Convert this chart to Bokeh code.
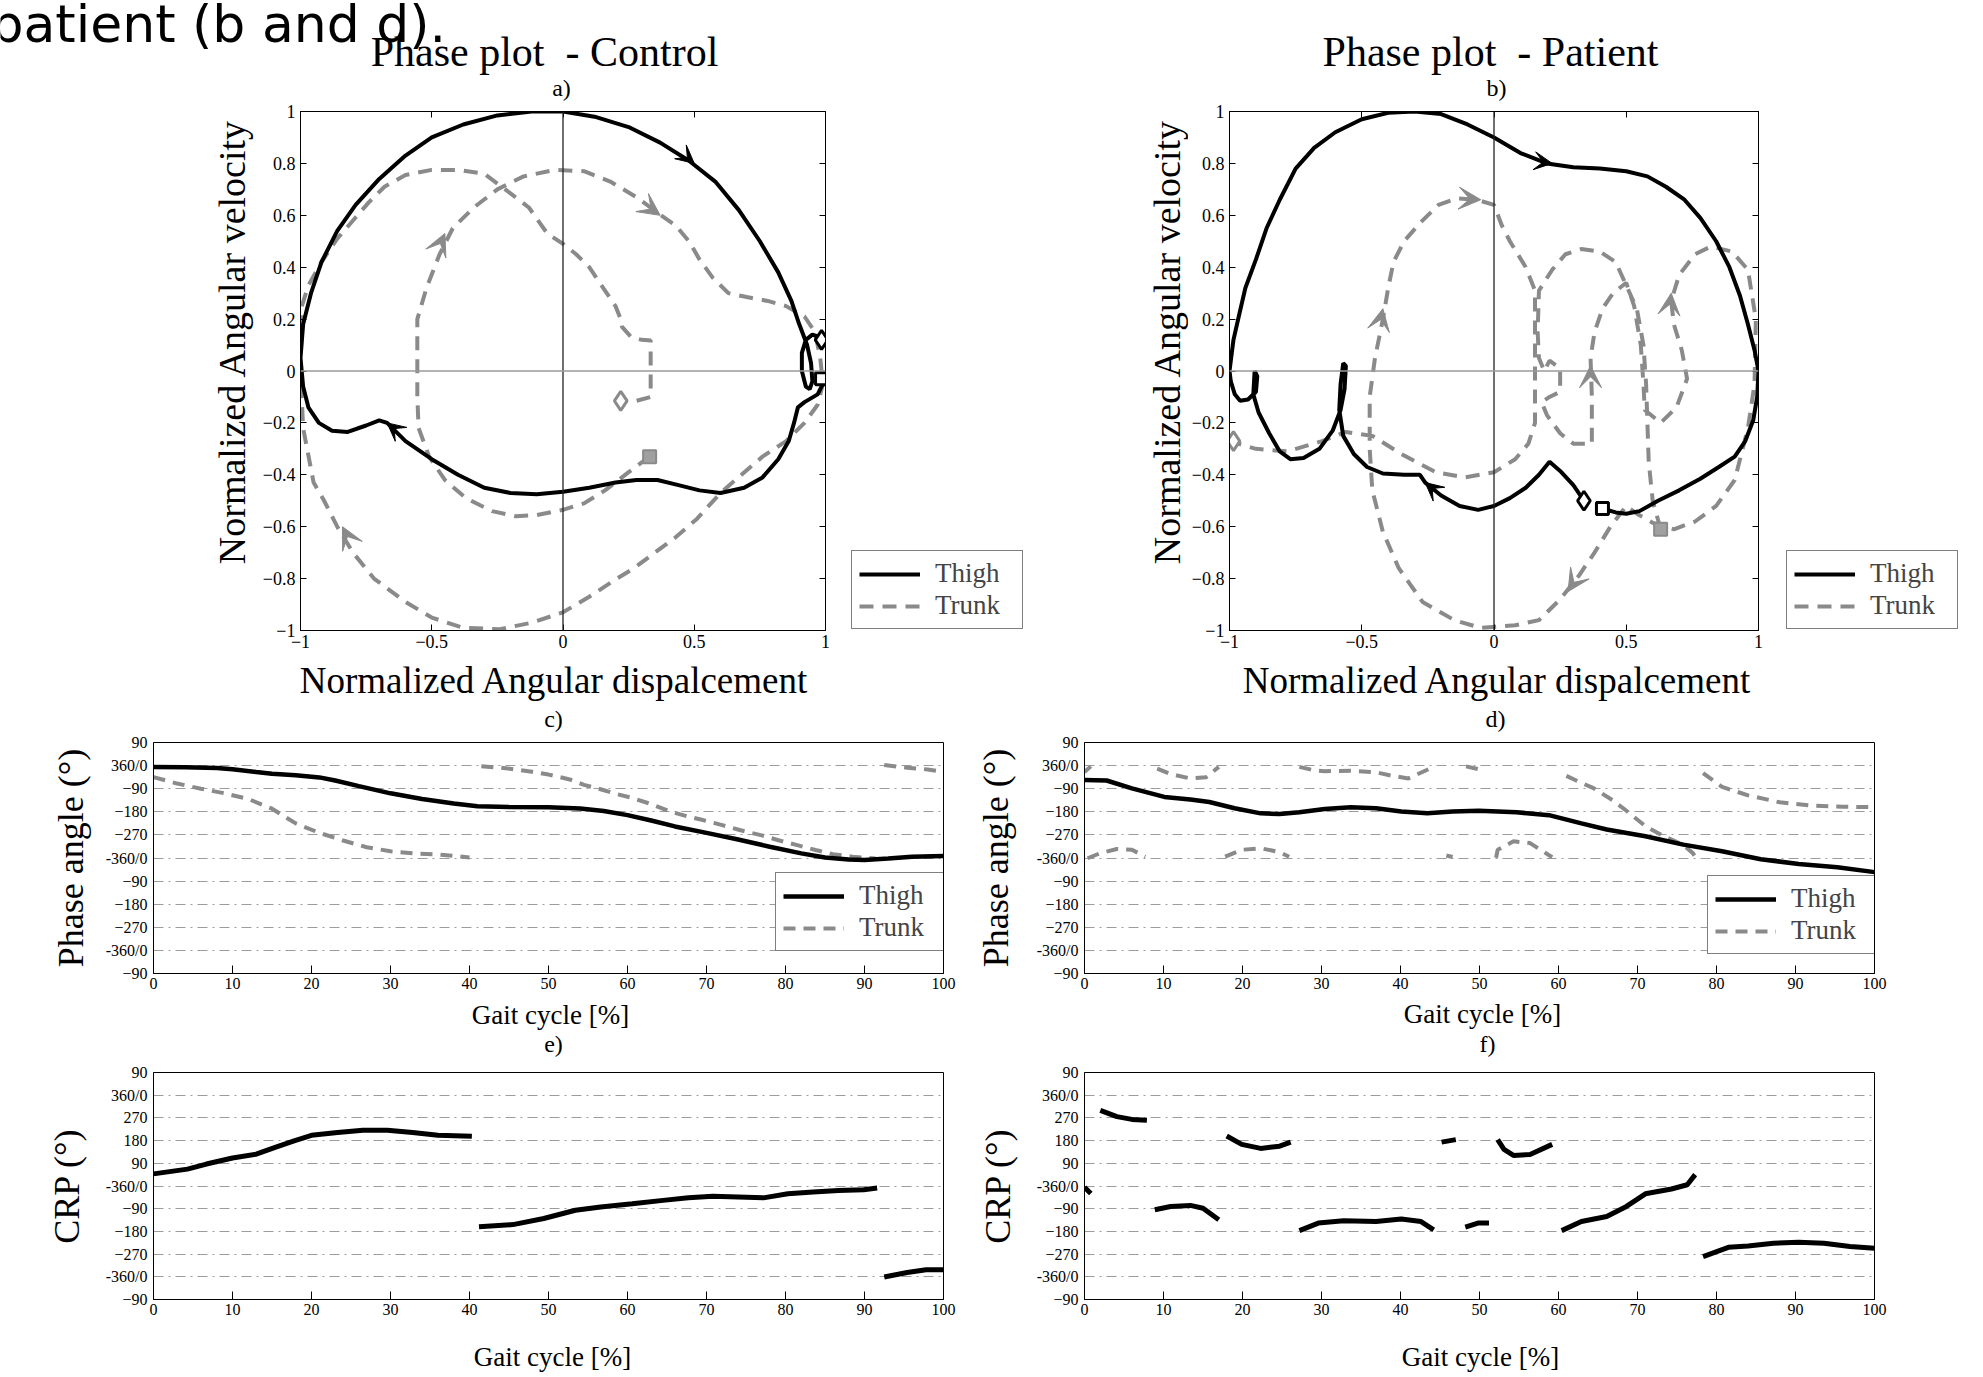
import math
from bokeh.plotting import figure
from bokeh.layouts import column, row
from bokeh.models import (Label, Legend, LegendItem, Span, FixedTicker, LinearAxis,
                          Arrow, VeeHead, ColumnDataSource)
from bokeh.embed import file_html
from bokeh.resources import INLINE

SERIF = "Liberation Serif"
BLACK = "black"
GRAY = "#8a8a8a"
GRID = "#9c9c9c"
NAN = float("nan")

# ------------------------------------------------------------------ data
# a) Control phase plot: (normalized displacement, normalized velocity)
thigh_a = [(1.0, -0.03), (0.97, -0.09), (0.92, -0.12), (0.895, -0.14), (0.88, -0.2), (0.86, -0.27),
           (0.82, -0.34), (0.76, -0.41), (0.69, -0.45), (0.6, -0.47), (0.52, -0.46), (0.44, -0.44),
           (0.36, -0.42), (0.28, -0.42), (0.2, -0.43), (0.1, -0.45), (0.0, -0.465), (-0.1, -0.475),
           (-0.2, -0.47), (-0.3, -0.45), (-0.4, -0.4), (-0.5, -0.34), (-0.6, -0.27), (-0.67, -0.2),
           (-0.7, -0.19), (-0.75, -0.21), (-0.82, -0.235), (-0.88, -0.23), (-0.93, -0.2), (-0.97, -0.14),
           (-0.99, -0.06), (-1.0, 0.05), (-0.99, 0.18), (-0.96, 0.3), (-0.92, 0.42), (-0.86, 0.54),
           (-0.79, 0.64), (-0.7, 0.74), (-0.6, 0.83), (-0.5, 0.9), (-0.38, 0.95), (-0.25, 0.985),
           (-0.12, 1.0), (0.0, 1.0), (0.12, 0.98), (0.25, 0.94), (0.37, 0.88), (0.48, 0.81), (0.58, 0.73),
           (0.67, 0.62), (0.75, 0.5), (0.82, 0.38), (0.87, 0.27), (0.9, 0.18), (0.93, 0.1), (0.945, 0.03),
           (0.95, -0.04), (0.94, -0.07), (0.925, -0.06), (0.91, 0.0), (0.91, 0.07), (0.925, 0.12),
           (0.95, 0.14), (0.98, 0.13), (1.0, 0.12)]
trunk_a = [(0.33, -0.33), (0.25, -0.39), (0.16, -0.46), (0.08, -0.51), (0.0, -0.535), (-0.1, -0.555),
           (-0.18, -0.56), (-0.27, -0.54), (-0.37, -0.49), (-0.45, -0.42), (-0.51, -0.33), (-0.55, -0.22),
           (-0.555, -0.1), (-0.555, 0.05), (-0.555, 0.2), (-0.52, 0.32), (-0.47, 0.45), (-0.42, 0.55),
           (-0.34, 0.63), (-0.25, 0.7), (-0.15, 0.75), (-0.03, 0.775), (0.08, 0.77), (0.18, 0.73),
           (0.28, 0.67), (0.36, 0.61), (0.43, 0.56), (0.48, 0.5), (0.52, 0.43), (0.57, 0.36), (0.63, 0.3),
           (0.7, 0.285), (0.78, 0.27), (0.85, 0.25), (0.92, 0.21), (0.96, 0.15), (0.98, 0.05), (0.99, -0.05),
           (0.97, -0.13), (0.92, -0.2), (0.85, -0.27), (0.76, -0.33), (0.68, -0.4), (0.6, -0.47),
           (0.51, -0.57), (0.43, -0.64), (0.35, -0.7), (0.27, -0.76), (0.19, -0.81), (0.1, -0.87),
           (0.0, -0.93), (-0.12, -0.97), (-0.24, -0.995), (-0.38, -0.99), (-0.5, -0.95), (-0.6, -0.89),
           (-0.72, -0.8), (-0.8, -0.7), (-0.86, -0.6), (-0.91, -0.5), (-0.95, -0.43), (-0.99, -0.22),
           (-1.0, 0.0), (-0.995, 0.25), (-0.97, 0.33), (-0.92, 0.42), (-0.86, 0.51), (-0.8, 0.58),
           (-0.74, 0.65), (-0.68, 0.71), (-0.6, 0.755), (-0.5, 0.775), (-0.4, 0.775), (-0.3, 0.76),
           (-0.22, 0.7), (-0.13, 0.63), (-0.06, 0.53), (0.0, 0.49), (0.05, 0.45), (0.1, 0.4), (0.16, 0.31),
           (0.2, 0.25), (0.22, 0.2), (0.225, 0.17), (0.26, 0.13), (0.3, 0.12), (0.334, 0.118),
           (0.334, 0.0), (0.334, -0.1), (0.28, -0.115), (0.22, -0.115)]
start_end_a = {"thigh_diamond": (0.985, 0.12), "thigh_square": (0.985, -0.03),
               "trunk_diamond": (0.22, -0.115), "trunk_square": (0.33, -0.33)}
# arrow tips (x, y) with direction (dx, dy)
arrows_a_thigh = [(0.5, 0.8, 0.1, -0.085), (-0.67, -0.2, -0.06, 0.05)]
arrows_a_trunk = [(0.37, 0.6, 0.07, -0.05), (-0.45, 0.53, 0.04, 0.09), (-0.84, -0.6, -0.04, 0.08)]

# b) Patient phase plot
thigh_b = [(0.34, -0.5), (0.3, -0.44), (0.25, -0.385), (0.21, -0.35), (0.17, -0.4), (0.12, -0.45),
           (0.06, -0.49), (0.0, -0.52), (-0.06, -0.535), (-0.13, -0.52), (-0.2, -0.48), (-0.26, -0.43),
           (-0.28, -0.4), (-0.34, -0.4), (-0.42, -0.395), (-0.48, -0.37), (-0.53, -0.32), (-0.57, -0.25),
           (-0.585, -0.15), (-0.58, -0.05), (-0.57, 0.03), (-0.56, 0.02), (-0.565, -0.07), (-0.58, -0.15),
           (-0.61, -0.23), (-0.66, -0.3), (-0.72, -0.335), (-0.77, -0.34), (-0.81, -0.31), (-0.85, -0.24),
           (-0.89, -0.16), (-0.91, -0.09), (-0.905, 0.0), (-0.895, -0.02), (-0.9, -0.08), (-0.93, -0.11),
           (-0.96, -0.115), (-0.98, -0.09), (-0.995, -0.04), (-1.0, 0.0), (-0.985, 0.12), (-0.965, 0.21),
           (-0.94, 0.32), (-0.9, 0.43), (-0.86, 0.55), (-0.81, 0.66), (-0.75, 0.78), (-0.68, 0.86),
           (-0.6, 0.92), (-0.5, 0.97), (-0.4, 0.995), (-0.3, 1.0), (-0.2, 0.99), (-0.1, 0.95), (0.0, 0.9),
           (0.1, 0.84), (0.2, 0.8), (0.3, 0.785), (0.4, 0.78), (0.5, 0.77), (0.58, 0.75), (0.65, 0.71),
           (0.72, 0.66), (0.78, 0.59), (0.84, 0.5), (0.89, 0.4), (0.93, 0.29), (0.96, 0.18), (0.985, 0.08),
           (1.0, 0.0), (0.995, -0.1), (0.98, -0.19), (0.95, -0.27), (0.91, -0.33), (0.85, -0.37),
           (0.78, -0.415), (0.7, -0.46), (0.62, -0.5), (0.55, -0.54), (0.5, -0.55), (0.46, -0.545),
           (0.41, -0.53)]
trunk_b = [(0.63, -0.61), (0.6, -0.5), (0.585, -0.35), (0.58, -0.2), (0.575, -0.05), (0.565, 0.1),
           (0.54, 0.24), (0.5, 0.33), (0.46, 0.42), (0.4, 0.46), (0.33, 0.47), (0.27, 0.45), (0.22, 0.39),
           (0.17, 0.31), (0.165, 0.15), (0.17, 0.05), (0.19, 0.0), (0.21, 0.04), (0.25, 0.01), (0.25, -0.08),
           (0.21, -0.1), (0.18, -0.12), (0.2, -0.17), (0.25, -0.24), (0.3, -0.28), (0.37, -0.28),
           (0.37, -0.1), (0.365, 0.05), (0.38, 0.15), (0.41, 0.24), (0.45, 0.3), (0.5, 0.34), (0.53, 0.25),
           (0.555, 0.1), (0.565, -0.05), (0.57, -0.15), (0.63, -0.2), (0.69, -0.14), (0.73, -0.03),
           (0.71, 0.08), (0.68, 0.18), (0.67, 0.27), (0.7, 0.37), (0.76, 0.45), (0.82, 0.48), (0.9, 0.46),
           (0.96, 0.39), (0.99, 0.2), (0.985, -0.05), (0.96, -0.22), (0.91, -0.42), (0.84, -0.52),
           (0.76, -0.58), (0.68, -0.61), (0.6, -0.585), (0.54, -0.55), (0.5, -0.52), (0.44, -0.6),
           (0.38, -0.7), (0.32, -0.79), (0.25, -0.88), (0.17, -0.96), (0.08, -0.98), (-0.05, -0.99),
           (-0.15, -0.96), (-0.27, -0.89), (-0.36, -0.76), (-0.42, -0.62), (-0.46, -0.46), (-0.47, -0.3),
           (-0.47, -0.1), (-0.45, 0.05), (-0.42, 0.2), (-0.4, 0.32), (-0.38, 0.42), (-0.34, 0.5),
           (-0.28, 0.57), (-0.21, 0.64), (-0.14, 0.665), (-0.065, 0.66), (0.0, 0.64), (0.03, 0.56),
           (0.06, 0.5), (0.12, 0.4), (0.155, 0.31), (0.155, 0.15), (0.155, 0.0), (0.155, -0.2),
           (0.13, -0.28), (0.08, -0.34), (0.0, -0.39), (-0.11, -0.41), (-0.22, -0.39), (-0.35, -0.32),
           (-0.46, -0.25), (-0.56, -0.235), (-0.65, -0.27), (-0.78, -0.31), (-0.9, -0.3), (-1.0, -0.27)]
start_end_b = {"thigh_diamond": (0.34, -0.5), "thigh_square": (0.41, -0.53),
               "trunk_diamond": (-0.985, -0.27), "trunk_square": (0.63, -0.61)}
arrows_b_thigh = [(0.22, 0.8, 0.1, -0.015), (-0.26, -0.43, -0.07, 0.06)]
arrows_b_trunk = [(-0.05, 0.66, 0.07, -0.005), (-0.42, 0.24, 0.02, 0.1), (0.365, 0.02, 0.0, 0.1),
                  (0.67, 0.3, 0.01, 0.1), (0.28, -0.85, -0.05, -0.08)]

# c) / d) phase angle vs gait cycle
phase_ticks = [90, 0, -90, -180, -270, -360, -450, -540, -630, -720, -810]
phase_tick_labels = ["90", "360/0", "\u221290", "\u2212180", "\u2212270", "-360/0",
                     "\u221290", "\u2212180", "\u2212270", "-360/0", "\u221290"]
gait_ticks = [0, 10, 20, 30, 40, 50, 60, 70, 80, 90, 100]

thigh_c = [[(0, -5), (4, -6), (8, -9), (10, -14), (13, -25), (15, -32), (18, -38), (21, -46), (23, -58),
            (26, -80), (30, -108), (34, -130), (38, -148), (41, -158), (45, -161), (50, -162), (54, -167),
            (57, -177), (60, -193), (63, -214), (66, -237), (70, -262), (74, -288), (78, -316), (82, -342),
            (85, -358), (88, -366), (90, -368), (93, -362), (96, -355), (100, -352)]]
trunk_c = [[(0, -45), (3, -70), (6, -90), (9, -108), (12, -130), (15, -168), (18, -225), (21, -262),
            (24, -292), (27, -318), (30, -334), (33, -342), (36, -346), (38, -352), (40, -358)],
           [(41.5, -3), (44, -8), (47.9, -24), (50, -35), (52.7, -54), (54.5, -75), (56.7, -93), (58.5, -110),
            (60.6, -126), (63, -150), (65.4, -179), (67.5, -197), (69.4, -211), (72, -232), (74.2, -251),
            (77, -272), (79, -290), (81.5, -310), (83.8, -329), (86, -345), (88.5, -355), (91.4, -362)],
           [(92.5, 2), (95.4, -8), (98, -15), (100, -24)]]

thigh_d = [[(0, -56), (2.8, -58), (6, -89), (10.1, -122), (13.4, -132), (15.8, -142), (19, -166),
            (22.3, -186), (24.7, -189), (27.2, -182), (30.4, -169), (33.7, -162), (36.9, -166), (40.1, -179),
            (43.4, -186), (46.6, -179), (49.9, -176), (54.7, -182), (58.8, -193), (62.9, -225), (66.1, -249),
            (71, -275), (75.8, -308), (80.7, -334), (85.6, -365), (90.4, -383), (95.3, -396), (100, -415)]]
trunk_d = [[(0, -25), (0.8, -3)],
           [(9.2, -12), (10.9, -33), (13.4, -50), (15.4, -45), (17, -5)],
           [(27.2, -5), (29, -18), (30.4, -22), (33.7, -20), (36.9, -26), (39, -40), (41, -50), (43.4, -16),
            (44.2, -5)],
           [(48.3, -3), (50, -15), (50.7, -23)],
           [(61, -40), (62.5, -62), (64.5, -89), (66.9, -136), (68.6, -176), (71, -236), (73.4, -276),
            (75.8, -309), (77, -341), (77.3, -355)],
           [(78.3, -29), (80.7, -83), (84, -116), (88, -143), (92, -156), (96, -160), (100, -162)],
           [(0.4, -361), (2, -341), (4.1, -325), (6, -328), (7.7, -355)],
           [(17.8, -355), (19.9, -328), (22.3, -322), (24.7, -337), (25.9, -355)],
           [(45.8, -350), (46.6, -356)],
           [(52.1, -359), (52.3, -328), (54.3, -295), (56.4, -302), (59.2, -357)]]

# e) / f) continuous relative phase
crp_ticks = [450, 360, 270, 180, 90, 0, -90, -180, -270, -360, -450]
crp_tick_labels = ["90", "360/0", "270", "180", "90", "-360/0",
                   "\u221290", "\u2212180", "\u2212270", "-360/0", "\u221290"]
crp_e = [[(0, 48), (4.3, 67), (6.7, 87), (10, 111), (13, 126), (15.4, 153), (17.8, 179), (20, 201),
          (23.3, 212), (26.5, 221), (29.6, 221), (32.8, 212), (36, 201), (40.3, 197)],
         [(41.2, -162), (45.5, -153), (49.4, -129), (53.4, -96), (56.6, -83), (60.6, -70), (64.5, -57),
          (67.7, -47), (70.8, -41), (74, -44), (77.2, -47), (80.3, -31), (83.5, -24), (86.7, -18),
          (89.9, -15), (91.6, -8)],
         [(92.5, -361), (95.4, -343), (97.8, -332), (100, -332)]]
crp_f = [[(0, -5), (0.8, -30)],
         [(2, 300), (4.1, 275), (6, 264), (7.9, 261)],
         [(8.9, -94), (10.9, -81), (13.4, -77), (15, -88), (17, -134)],
         [(18, 198), (19.9, 165), (22.3, 149), (24.7, 158), (26.1, 174)],
         [(27.2, -177), (29.6, -147), (32.8, -138), (36.9, -141), (40.1, -131), (42.6, -141), (44.2, -174)],
         [(45.2, 174), (47, 184)],
         [(48.2, -163), (49.8, -147), (51.2, -147)],
         [(52.3, 184), (53.1, 145), (54.3, 121), (56.4, 125), (59.2, 165)],
         [(60.4, -177), (62.9, -141), (66.1, -121), (68.6, -81), (71, -31), (74.3, -12), (76.3, 5), (77.3, 45)],
         [(78.3, -280), (81.5, -243), (84, -238), (87.2, -227), (90.4, -223), (93.6, -227), (96.9, -240),
          (100, -247)]]

disp_ticks_ab = [-1, -0.5, 0, 0.5, 1]
disp_tick_labels_ab = ["\u22121", "\u22120.5", "0", "0.5", "1"]
vel_ticks_ab = [-1, -0.8, -0.6, -0.4, -0.2, 0, 0.2, 0.4, 0.6, 0.8, 1]
vel_tick_labels_ab = ["\u22121", "\u22120.8", "\u22120.6", "\u22120.4", "\u22120.2", "0",
                      "0.2", "0.4", "0.6", "0.8", "1"]

W = 1983
# page rows (y): header 0-101, a/b 101-656, strip 656-732, c/d 732-997, strip 997-1057,
# e/f 1057-1332, strip 1332-1377
ROW1_TOP, ROW1_BORDER_TOP, ROW1_BORDER_BOTTOM, ROW1_H = 101, 10, 26, 555
FRAME1_BOTTOM = ROW1_TOP + ROW1_H - ROW1_BORDER_BOTTOM   # 630


# ------------------------------------------------------------------ helpers
def xy(pairs):
    return [p[0] for p in pairs], [p[1] for p in pairs]


def joined(segments):
    xs, ys = [], []
    for i, seg in enumerate(segments):
        if i:
            xs.append(NAN)
            ys.append(NAN)
        sx, sy = xy(seg)
        xs += sx
        ys += sy
    return xs, ys


def make_fig(width, height, left, right, top, bottom, xr, yr):
    p = figure(width=width, height=height, x_range=xr, y_range=yr, output_backend="svg",
               toolbar_location=None, min_border_left=left, min_border_right=right,
               min_border_top=top, min_border_bottom=bottom)
    p.outline_line_color = "black"
    p.outline_line_width = 1
    p.grid.visible = False
    p.background_fill_color = "white"
    p.border_fill_color = "white"
    return p


def strip(width, height, top=0, bottom=0):
    s = figure(width=width, height=height, x_range=(0, 1), y_range=(0, 1), output_backend="svg",
               toolbar_location=None, min_border=0, x_axis_location=None, y_axis_location=None)
    s.min_border_left = 0
    s.min_border_right = 0
    s.min_border_top = top
    s.min_border_bottom = bottom
    s.outline_line_color = None
    s.grid.visible = False
    s.border_fill_color = "white"
    return s


def stxt(s, x0, y1, px, py, text, size, font=SERIF, align="center", baseline="middle", angle=0.0):
    """Text at page position (px, py) in a strip whose frame left is x0 and frame bottom is y1."""
    s.add_layout(Label(x=px - x0, y=y1 - py, x_units="screen", y_units="screen", text=text,
                       text_font=font, text_font_size=f"{size}px", text_align=align,
                       text_baseline=baseline, text_color="black", angle=angle))


def style_axis(ax, ticks, labels, size, tick_in=6, standoff=6):
    ax.ticker = FixedTicker(ticks=ticks)
    ax.major_label_overrides = dict(zip(ticks, labels))
    ax.major_tick_in = tick_in
    ax.major_tick_out = 0
    ax.minor_tick_line_color = None
    ax.major_tick_line_color = "black"
    ax.axis_line_color = "black"
    ax.major_label_text_font = SERIF
    ax.major_label_text_font_size = f"{size}px"
    ax.major_label_text_color = "black"
    ax.major_label_standoff = standoff


def mirror_axis(ticks):
    ax = LinearAxis()
    ax.ticker = FixedTicker(ticks=ticks)
    ax.major_tick_in = 6
    ax.major_tick_out = 0
    ax.minor_tick_line_color = None
    ax.major_tick_line_color = "black"
    ax.axis_line_color = "black"
    ax.major_label_text_font_size = "0px"
    ax.major_label_text_color = None
    ax.major_label_standoff = 0
    return ax


def make_legend(items, loc):
    lg = Legend(items=items, location=loc, orientation="vertical")
    lg.label_text_font = SERIF
    lg.label_text_font_size = "27px"
    lg.glyph_width = 61
    lg.glyph_height = 30
    lg.label_height = 30
    lg.label_width = 80
    lg.label_standoff = 15
    lg.padding = 7
    lg.spacing = 1
    lg.margin = 0
    lg.border_line_color = "black"
    lg.border_line_width = 1
    lg.background_fill_color = "white"
    lg.background_fill_alpha = 1
    return lg


def legend_strip(width, loc):
    s = strip(width, ROW1_H, ROW1_BORDER_TOP, ROW1_BORDER_BOTTOM)
    # legend-only proxy renderers (no visible data)
    r1 = s.line([NAN], [NAN], line_color=BLACK, line_width=4)
    r2 = s.line([NAN], [NAN], line_color=GRAY, line_width=4, line_dash="14 9")
    s.add_layout(make_legend([LegendItem(label="Thigh", renderers=[r1]),
                              LegendItem(label="Trunk", renderers=[r2])], loc))
    return s


def arrows(p, spec, color, size):
    src = ColumnDataSource(dict(
        x_start=[a[0] - a[2] for a in spec], y_start=[a[1] - a[3] for a in spec],
        x_end=[a[0] for a in spec], y_end=[a[1] for a in spec]))
    p.add_layout(Arrow(end=VeeHead(size=size, fill_color=color, line_color=color, line_width=1),
                       source=src, x_start="x_start", y_start="y_start", x_end="x_end", y_end="y_end",
                       line_alpha=0, line_width=0.1))


def phase_panel(width, left, right, thigh, trunk, marks, arr_thigh, arr_trunk):
    p = make_fig(width, ROW1_H, left, right, ROW1_BORDER_TOP, ROW1_BORDER_BOTTOM, (-1, 1), (-1, 1))
    style_axis(p.xaxis[0], disp_ticks_ab, disp_tick_labels_ab, 18, standoff=4)
    style_axis(p.yaxis[0], vel_ticks_ab, vel_tick_labels_ab, 18, standoff=5)
    p.add_layout(mirror_axis(disp_ticks_ab), "above")
    p.add_layout(mirror_axis(vel_ticks_ab), "right")
    p.add_layout(Span(location=0, dimension="height", line_color="#222222", line_width=1.3))
    p.add_layout(Span(location=0, dimension="width", line_color="#9a9a9a", line_width=1.3))
    tx, ty = xy(thigh)
    kx, ky = xy(trunk)
    p.line(kx, ky, line_color=GRAY, line_width=4, line_dash="14 9")
    p.line(tx, ty, line_color=BLACK, line_width=4)
    arrows(p, arr_trunk, GRAY, 22)
    arrows(p, arr_thigh, BLACK, 18)
    p.scatter([marks["thigh_diamond"][0]], [marks["thigh_diamond"][1]], marker="diamond", size=19,
              fill_color="white", line_color=BLACK, line_width=3)
    p.scatter([marks["thigh_square"][0]], [marks["thigh_square"][1]], marker="square", size=12,
              fill_color="white", line_color=BLACK, line_width=3)
    p.scatter([marks["trunk_diamond"][0]], [marks["trunk_diamond"][1]], marker="diamond", size=19,
              fill_color="white", line_color=GRAY, line_width=3)
    p.scatter([marks["trunk_square"][0]], [marks["trunk_square"][1]], marker="square", size=13,
              fill_color="#a0a0a0", line_color=GRAY, line_width=2)
    return p


def gait_panel(width, height, left, right, top, bottom, yr, yticks, ylabels, ylab, ylab_standoff):
    p = make_fig(width, height, left, right, top, bottom, (0, 100), yr)
    style_axis(p.xaxis[0], gait_ticks, [str(t) for t in gait_ticks], 16, tick_in=8, standoff=4)
    style_axis(p.yaxis[0], yticks, ylabels, 16, tick_in=0)
    p.ygrid.visible = True
    p.ygrid.ticker = FixedTicker(ticks=yticks[1:-1])
    p.ygrid.grid_line_color = GRID
    p.ygrid.grid_line_width = 1.2
    p.ygrid.grid_line_dash = "10 5 2 5"
    ax = p.yaxis[0]
    ax.axis_label = ylab
    ax.axis_label_text_font = SERIF
    ax.axis_label_text_font_size = "36px"
    ax.axis_label_text_font_style = "normal"
    ax.axis_label_text_color = "black"
    ax.axis_label_standoff = ylab_standoff
    return p


# ------------------------------------------------------------------ header strip (y 0-101)
s0 = strip(W, 101)
stxt(s0, 0, 101, -10, 23, "patient (b and d).", 52, font="DejaVu Sans", align="left",
     baseline="alphabetic")
stxt(s0, 0, 101, 544, 51, "Phase plot \u00a0- Control", 42)
stxt(s0, 0, 101, 561, 87, "a)", 24)
stxt(s0, 0, 101, 1490, 51, "Phase plot \u00a0- Patient", 42)
stxt(s0, 0, 101, 1496, 87, "b)", 24)

# ------------------------------------------------------------------ a) / b)  (y 101-656)
ya = strip(256, ROW1_H, ROW1_BORDER_TOP, ROW1_BORDER_BOTTOM)
stxt(ya, 0, FRAME1_BOTTOM, 231, 341, "Normalized Angular velocity", 38, angle=math.pi / 2)
pa = phase_panel(595, 44, 26, thigh_a, trunk_a, start_end_a, arrows_a_thigh, arrows_a_trunk)
la = legend_strip(337, (0, 1))
stxt(la, 851, FRAME1_BOTTOM, 1166, 341, "Normalized Angular velocity", 38, angle=math.pi / 2)
pb = phase_panel(598, 39, 28, thigh_b, trunk_b, start_end_b, arrows_b_thigh, arrows_b_trunk)
lb = legend_strip(197, (0, 1))

# ------------------------------------------------------------------ strip (y 656-732)
s1 = strip(W, 76)
stxt(s1, 0, 732, 554, 680, "Normalized Angular dispalcement", 37)
stxt(s1, 0, 732, 1497, 680, "Normalized Angular dispalcement", 37)
stxt(s1, 0, 732, 553, 718.5, "c)", 24)
stxt(s1, 0, 732, 1495, 718, "d)", 24)

# ------------------------------------------------------------------ c) / d)  (y 732-997)
pc = gait_panel(960, 265, 153, 17, 9, 24, (-810, 90), phase_ticks, phase_tick_labels,
                "Phase angle (\u00b0)", 12)
x, y = joined(trunk_c)
r2 = pc.line(x, y, line_color=GRAY, line_width=4, line_dash="12 8")
x, y = joined(thigh_c)
r1 = pc.line(x, y, line_color=BLACK, line_width=4.5)
pc.add_layout(make_legend([LegendItem(label="Thigh", renderers=[r1]),
                           LegendItem(label="Trunk", renderers=[r2])], (622, 22)))

pd_ = gait_panel(1023, 265, 124, 109, 10, 24, (-810, 90), phase_ticks, phase_tick_labels,
                 "Phase angle (\u00b0)", 18)
x, y = joined(trunk_d)
r2 = pd_.line(x, y, line_color=GRAY, line_width=4, line_dash="12 8")
x, y = joined(thigh_d)
r1 = pd_.line(x, y, line_color=BLACK, line_width=4.5)
pd_.add_layout(make_legend([LegendItem(label="Thigh", renderers=[r1]),
                            LegendItem(label="Trunk", renderers=[r2])], (623, 19)))

# ------------------------------------------------------------------ strip (y 997-1057)
s2 = strip(W, 60)
stxt(s2, 0, 1057, 550, 1014, "Gait cycle [%]", 27)
stxt(s2, 0, 1057, 1482, 1013.5, "Gait cycle [%]", 27)
stxt(s2, 0, 1057, 553, 1043, "e)", 24)
stxt(s2, 0, 1057, 1487, 1043, "f)", 24)

# ------------------------------------------------------------------ e) / f)  (y 1057-1332)
pe = gait_panel(960, 275, 153, 17, 10, 29, (-450, 450), crp_ticks, crp_tick_labels, "CRP (\u00b0)", 16)
x, y = joined(crp_e)
pe.line(x, y, line_color=BLACK, line_width=5)

pf = gait_panel(1023, 275, 124, 109, 15, 33, (-450, 450), crp_ticks, crp_tick_labels, "CRP (\u00b0)", 16)
x, y = joined(crp_f)
pf.line(x, y, line_color=BLACK, line_width=5)

# ------------------------------------------------------------------ strip (y 1332-1377)
s3 = strip(W, 45)
stxt(s3, 0, 1377, 552, 1356, "Gait cycle [%]", 27)
stxt(s3, 0, 1377, 1480, 1356, "Gait cycle [%]", 27)

layout = column(s0, row(ya, pa, la, pb, lb), s1, row(pc, pd_), s2, row(pe, pf), s3)
open("out.html", "w").write(file_html(layout, INLINE))
